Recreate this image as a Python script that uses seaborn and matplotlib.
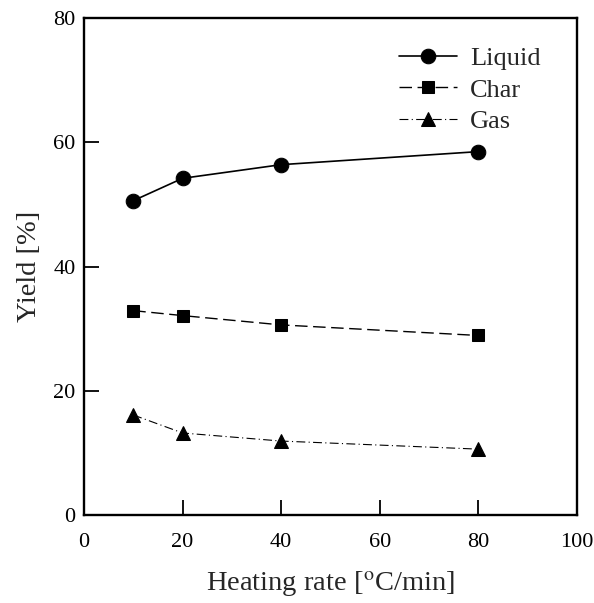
import matplotlib
matplotlib.use("Agg")
import matplotlib.pyplot as plt
import seaborn as sns
import pandas as pd

heating_rate = [10, 20, 40, 80]
liquid = [50.6, 54.2, 56.4, 58.5]
char = [32.9, 32.1, 30.6, 28.9]
gas = [16.1, 13.2, 11.9, 10.6]
series_names = ["Liquid", "Char", "Gas"]
x_ticks = [0, 20, 40, 60, 80, 100]
y_ticks = [0, 20, 40, 60, 80]

sns.set_theme(style="ticks")
plt.rcParams['font.family'] = ['Liberation Serif', 'DejaVu Serif']
plt.rcParams['mathtext.fontset'] = 'stix'

fig = plt.figure(figsize=(5.94, 6.03), dpi=100)
ax = fig.add_axes([0.1414, 0.146, 0.8296, 0.824])

styles = [
    dict(marker="o", linestyle="-", lw=1.2, ms=10.5),
    dict(marker="s", linestyle=(0, (9, 4)), lw=1.0, ms=9),
    dict(marker="^", linestyle=(0, (8, 3, 1, 3)), lw=0.8, ms=10.5),
]
for name, vals, st in zip(series_names, [liquid, char, gas], styles):
    df = pd.DataFrame({"x": heating_rate, "y": vals})
    sns.lineplot(data=df, x="x", y="y", ax=ax, color="black",
                 marker=st["marker"], markersize=st["ms"], linewidth=st["lw"],
                 linestyle=st["linestyle"], markeredgecolor="black",
                 label=name)

ax.set_xlim(0, 100)
ax.set_ylim(0, 80)
ax.set_xticks(x_ticks)
ax.set_yticks(y_ticks)
ax.tick_params(direction="in", length=11, width=1.3, labelsize=16,
               top=False, right=False, colors="black")
ax.tick_params(axis="x", pad=13)
ax.tick_params(axis="y", pad=6)
for s in ax.spines.values():
    s.set_linewidth(1.7)
    s.set_color("black")
ax.set_xlabel("Heating rate [$^{\\mathrm{o}}$C/min]", fontsize=20.5, labelpad=12)
ax.set_ylabel("Yield [%]", fontsize=20.5, labelpad=8)

leg = ax.legend(loc="upper right", frameon=False, fontsize=19,
                handlelength=2.2, handletextpad=0.5, labelspacing=0.3,
                bbox_to_anchor=(0.975, 0.99))

fig.savefig("out.png", dpi=100, facecolor="white")
